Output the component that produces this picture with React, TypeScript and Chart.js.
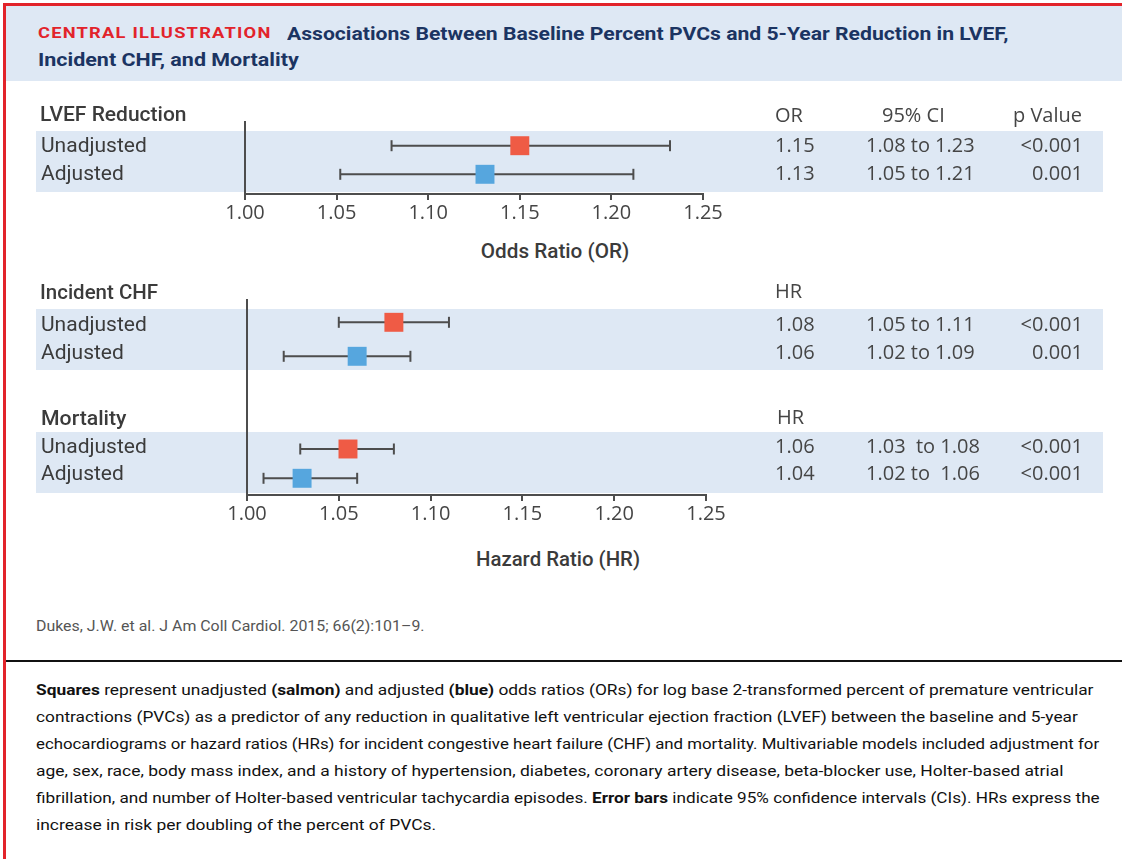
import React, { useEffect, useLayoutEffect, useRef } from 'react';
import { Chart, registerables } from 'chart.js';

Chart.register(...registerables);

// ---------------- data ----------------
const ROW_LABELS = ['Unadjusted', 'Adjusted'];
const X_TICKS = [1.0, 1.05, 1.1, 1.15, 1.2, 1.25];

// LVEF reduction (odds ratios) as drawn
const LVEF_EST = [1.15, 1.131];
const LVEF_LO = [1.08, 1.052];
const LVEF_HI = [1.232, 1.212];

// Incident CHF (hazard ratios) as drawn
const CHF_EST = [1.08, 1.06];
const CHF_LO = [1.05, 1.02];
const CHF_HI = [1.11, 1.089];

// Mortality (hazard ratios) as drawn
const MORT_EST = [1.055, 1.03];
const MORT_LO = [1.029, 1.009];
const MORT_HI = [1.08, 1.06];

// table texts
const LVEF_RATIO_TEXT = ['1.15', '1.13'];
const LVEF_CI_TEXT = ['1.08 to 1.23', '1.05 to 1.21'];
const LVEF_P_TEXT = ['<0.001', '0.001'];
const CHF_RATIO_TEXT = ['1.08', '1.06'];
const CHF_CI_TEXT = ['1.05 to 1.11', '1.02 to 1.09'];
const CHF_P_TEXT = ['<0.001', '0.001'];
const MORT_RATIO_TEXT = ['1.06', '1.04'];
const MORT_CI_TEXT = ['1.03  to 1.08', '1.02 to  1.06'];
const MORT_P_TEXT = ['<0.001', '<0.001'];

// ---------------- styles ----------------
const SALMON = '#ef5b45';
const BLUE = '#56a6de';
const BAND = '#dee8f4';
const AXIS = '#4d4d4d';
const RED = '#e2232a';
const NAVY = '#1b3462';
const LABEL = '#3b3b3b';
const NUM = '#454545';
const SANS = 'Roboto, "Noto Sans", sans-serif';
const NUMF = '"Open Sans", "Noto Sans", sans-serif';

type TProps = {
  x: number; y: number; size: number; family?: string; weight?: number; color?: string;
  align?: 'left' | 'right' | 'center'; w?: number; ls?: number; children: any;
};

function T({ x, y, size, family = SANS, weight = 400, color = LABEL, align = 'left', w, ls = 0, children }: TProps) {
  const ref = useRef<HTMLDivElement>(null);
  const base = align === 'center' ? 'translateX(-50%)' : align === 'right' ? 'translateX(-100%)' : '';
  useLayoutEffect(() => {
    const el = ref.current;
    if (!el || !w) return;
    const apply = () => {
      const nat = el.offsetWidth;
      if (nat > 0) el.style.transform = `${base} scaleX(${w / nat})`;
    };
    apply();
    const f: any = (document as any).fonts;
    if (f && f.ready) f.ready.then(apply);
  }, []);
  const L = Math.round(size * 1.3);
  return (
    <div
      ref={ref}
      style={{
        position: 'absolute', left: x, top: y - L / 2, width: 'max-content',
        fontSize: size, lineHeight: `${L}px`, fontFamily: family, fontWeight: weight, color,
        whiteSpace: 'pre', letterSpacing: ls, transform: base, zIndex: 3,
        transformOrigin: align === 'center' ? 'center center' : align === 'right' ? 'right center' : 'left center',
      }}
    >
      {children}
    </div>
  );
}

function Box({ x, y, w, h, c, z = 0 }: { x: number; y: number; w: number; h: number; c: string; z?: number }) {
  return <div style={{ position: 'absolute', left: x, top: y, width: w, height: h, background: c, zIndex: z }} />;
}

type FProps = {
  top: number; height: number; padTop: number; left: number; right: number;
  yMin: number; yMax: number; est: number[]; lo: number[]; hi: number[]; showX: boolean;
};

function Forest({ top, height, padTop, left, right, yMin, yMax, est, lo, hi, showX }: FProps) {
  const ref = useRef<HTMLCanvasElement>(null);
  useEffect(() => {
    const canvas = ref.current!;
    const datasets: any[] = [
      {
        data: est.map((v, i) => ({ x: v, y: i })),
        pointStyle: 'rect',
        pointRadius: 13.4,
        pointBackgroundColor: [SALMON, BLUE],
        pointBorderWidth: 0,
        order: 0,
        clip: false,
      },
    ];
    lo.forEach((l, i) => {
      datasets.push({
        data: [{ x: l, y: i }, { x: hi[i], y: i }],
        showLine: true,
        borderColor: AXIS,
        borderWidth: 2,
        pointStyle: 'line',
        pointRotation: 90,
        pointRadius: 5.5,
        pointBorderColor: AXIS,
        pointBorderWidth: 2,
        order: 1,
        clip: false,
      });
    });
    const chart = new Chart(canvas, {
      type: 'scatter',
      data: { datasets },
      options: {
        animation: false,
        responsive: false,
        events: [],
        layout: { autoPadding: false, padding: { left, right: 1122 - right, top: padTop, bottom: 0 } },
        plugins: { legend: { display: false }, tooltip: { enabled: false } },
        scales: {
          x: {
            type: 'linear',
            min: 1.0,
            max: 1.25,
            display: showX,
            afterBuildTicks: (s: any) => { s.ticks = X_TICKS.map((v) => ({ value: v })); },
            afterFit: (s: any) => { s.height = showX ? 40 : 0; },
            ticks: {
              autoSkip: false,
              maxRotation: 0,
              padding: 1,
              color: NUM,
              font: { family: NUMF, size: 20 },
              callback: (v: any) => Number(v).toFixed(2),
            },
            grid: { display: true, drawOnChartArea: false, drawTicks: true, tickLength: 6, color: AXIS, lineWidth: 2 },
            border: { display: true, color: AXIS, width: 2 },
          },
          y: {
            type: 'linear',
            reverse: true,
            min: yMin,
            max: yMax,
            display: true,
            afterFit: (s: any) => { s.width = 0; },
            ticks: { display: false },
            grid: { display: false },
            border: { display: true, color: AXIS, width: 2 },
          },
        },
      } as any,
    });
    return () => chart.destroy();
  }, []);
  return (
    <canvas
      ref={ref}
      width={1122}
      height={height}
      style={{ position: 'absolute', left: 0, top, width: 1122, height, zIndex: 2 }}
    />
  );
}

function Rows({ ys, ratio, ci, p }: { ys: number[]; ratio: string[]; ci: string[]; p: string[] }) {
  return (
    <>
      {ROW_LABELS.map((lab, i) => (
        <T key={'l' + i} x={41} y={ys[i]} size={21} w={i === 0 ? 106 : 83}>{lab}</T>
      ))}
      {ratio.map((s, i) => (
        <T key={'r' + i} x={775} y={ys[i]} size={20} family={NUMF} color={NUM}>{s}</T>
      ))}
      {ci.map((s, i) => (
        <T key={'c' + i} x={866} y={ys[i]} size={20} family={NUMF} color={NUM}>{s}</T>
      ))}
      {p.map((s, i) => (
        <T key={'p' + i} x={1083} y={ys[i]} size={20} family={NUMF} color={NUM} align="right">{s}</T>
      ))}
    </>
  );
}

const CAPTION_Y = [690, 717, 744, 771, 798, 825];
const CAPTION_W = [1057, 1042, 1063, 1027, 1064, 400];

export default function App() {
  const b = (s: string) => <b style={{ fontWeight: 700 }}>{s}</b>;
  const captionLines = [
    <>{b('Squares')} represent unadjusted {b('(salmon)')} and adjusted {b('(blue)')} odds ratios (ORs) for log base 2-transformed percent of premature ventricular</>,
    <>contractions (PVCs) as a predictor of any reduction in qualitative left ventricular ejection fraction (LVEF) between the baseline and 5-year</>,
    <>echocardiograms or hazard ratios (HRs) for incident congestive heart failure (CHF) and mortality. Multivariable models included adjustment for</>,
    <>age, sex, race, body mass index, and a history of hypertension, diabetes, coronary artery disease, beta-blocker use, Holter-based atrial</>,
    <>fibrillation, and number of Holter-based ventricular tachycardia episodes. {b('Error bars')} indicate 95% confidence intervals (CIs). HRs express the</>,
    <>increase in risk per doubling of the percent of PVCs.</>,
  ];
  return (
    <div style={{ position: 'fixed', left: 0, top: 0, width: 1122, height: 859, background: '#fff', overflow: 'hidden' }}>
      {/* frame */}
      <Box x={3} y={3} w={1119} h={3} c={RED} z={4} />
      <Box x={3} y={3} w={3} h={856} c={RED} z={4} />
      <Box x={6} y={6} w={1116} h={75} c={BAND} />

      {/* title */}
      <T x={38} y={33} size={15} weight={700} color={RED} ls={1} w={234}>CENTRAL ILLUSTRATION</T>
      <T x={287} y={33} size={19} weight={700} color={NAVY} w={721}>
        Associations Between Baseline Percent PVCs and 5-Year Reduction in LVEF,
      </T>
      <T x={38} y={59} size={19} weight={700} color={NAVY} w={261}>Incident CHF, and Mortality</T>

      {/* bands */}
      <Box x={36} y={131} w={1067} h={61} c={BAND} />
      <Box x={36} y={308.5} w={1067} h={61} c={BAND} />
      <Box x={36} y={432} w={1067} h={61} c={BAND} />

      {/* LVEF panel */}
      <T x={40} y={114} size={21} weight={500} w={147}>LVEF Reduction</T>
      <T x={775} y={115} size={20} family={NUMF} color={NUM}>OR</T>
      <T x={882} y={115} size={20} family={NUMF} color={NUM}>95% CI</T>
      <T x={1082} y={115} size={20} family={NUMF} color={NUM} align="right">p Value</T>
      <Rows ys={[145, 173]} ratio={LVEF_RATIO_TEXT} ci={LVEF_CI_TEXT} p={LVEF_P_TEXT} />
      <Forest top={100} height={134} padTop={22} left={245} right={703}
        yMin={-0.829} yMax={1.689} est={LVEF_EST} lo={LVEF_LO} hi={LVEF_HI} showX={true} />
      <T x={555} y={251} size={20} weight={500} align="center" w={148}>Odds Ratio (OR)</T>

      {/* CHF panel */}
      <T x={40} y={292} size={21} weight={500} w={118}>Incident CHF</T>
      <T x={775} y={291} size={20} family={NUMF} color={NUM}>HR</T>
      <Rows ys={[324, 352]} ratio={CHF_RATIO_TEXT} ci={CHF_CI_TEXT} p={CHF_P_TEXT} />
      <Forest top={280} height={105} padTop={20} left={247} right={706}
        yMin={-0.656} yMax={1.844} est={CHF_EST} lo={CHF_LO} hi={CHF_HI} showX={false} />

      {/* Mortality panel */}
      <T x={41} y={418} size={21} weight={500} w={86}>Mortality</T>
      <T x={777} y={417} size={20} family={NUMF} color={NUM}>HR</T>
      <Rows ys={[446, 473]} ratio={MORT_RATIO_TEXT} ci={MORT_CI_TEXT} p={MORT_P_TEXT} />
      <Forest top={385} height={150} padTop={0} left={247} right={706}
        yMin={-2.184} yMax={1.57} est={MORT_EST} lo={MORT_LO} hi={MORT_HI} showX={true} />
      <T x={558} y={559} size={20} weight={500} align="center" w={164}>Hazard Ratio (HR)</T>

      {/* citation */}
      <T x={36} y={626} size={15} color="#555" w={389}>Dukes, J.W. et al. J Am Coll Cardiol. 2015; 66(2):101–9.</T>
      <Box x={6} y={659.5} w={1116} h={2} c="#111" />

      {/* caption */}
      {captionLines.map((ln, i) => (
        <T key={i} x={36} y={CAPTION_Y[i]} size={15.5} color="#111" w={CAPTION_W[i]}>{ln}</T>
      ))}
    </div>
  );
}
